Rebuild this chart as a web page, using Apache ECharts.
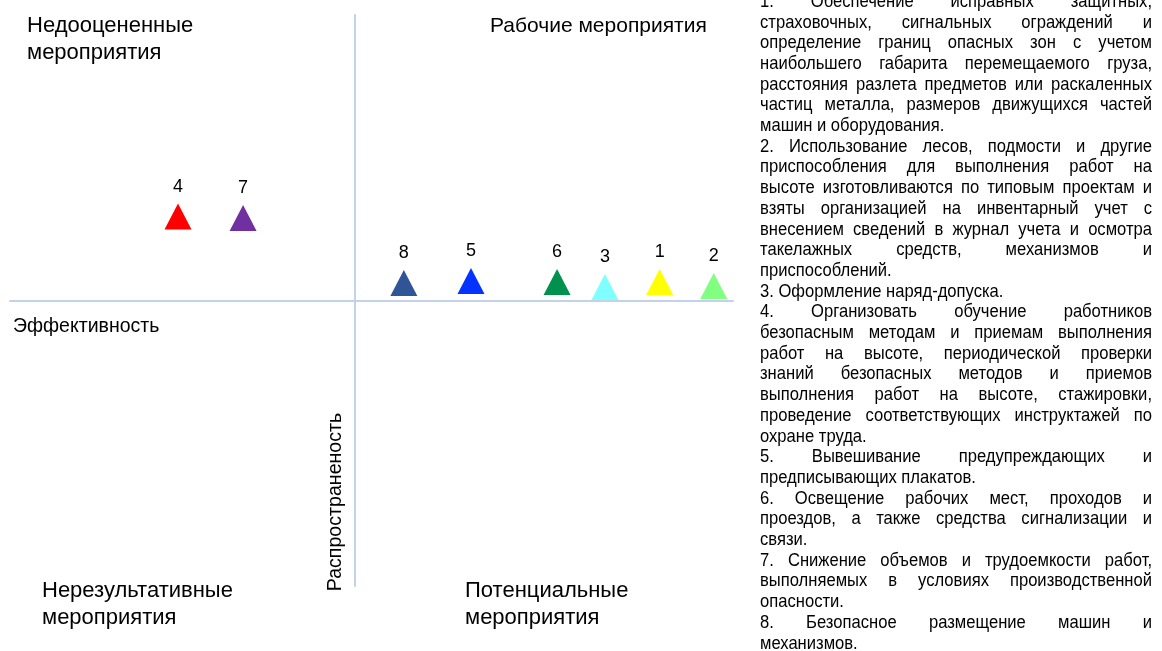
<!DOCTYPE html>
<html><head><meta charset="utf-8">
<script src="https://cdn.jsdelivr.net/npm/echarts@6/dist/echarts.min.js"></script>
<style>html,body{margin:0;padding:0;background:#fff}#main{width:1162px;height:651px}</style>
</head><body><div id="main"></div>
<script>
// ---- data ----
const measureIds = ['1', '2', '3', '4', '5', '6', '7', '8'];
const effectiveness = [8.87, 10.44, 7.28, -5.12, 3.39, 5.89, -3.23, 1.44];
const prevalence = [0.65, 0.51, 0.47, 2.94, 0.68, 0.65, 2.89, 0.61];
const colors = ['#FFFF00', '#80FF80', '#80FFFF', '#FF0000', '#0433FF', '#00914F', '#7030A0', '#2F5597'];
const quadrantLabels = [
  'Недооцененные\nмероприятия',
  'Рабочие мероприятия',
  'Нерезультативные\nмероприятия',
  'Потенциальные\nмероприятия'
];
const axisNames = ['Эффективность', 'Распространеность'];
const descriptionLines = [
  '1. Обеспечение исправных защитных,',
  'страховочных, сигнальных ограждений и',
  'определение границ опасных зон с учетом',
  'наибольшего габарита перемещаемого груза,',
  'расстояния разлета предметов или раскаленных',
  'частиц металла, размеров движущихся частей',
  'машин и оборудования.',
  '2. Использование лесов, подмости и другие',
  'приспособления для выполнения работ на',
  'высоте изготовливаются по типовым проектам и',
  'взяты организацией на инвентарный учет с',
  'внесением сведений в журнал учета и осмотра',
  'такелажных средств, механизмов и',
  'приспособлений.',
  '3. Оформление наряд-допуска.',
  '4. Организовать обучение работников',
  'безопасным методам и приемам выполнения',
  'работ на высоте, периодической проверки',
  'знаний безопасных методов и приемов',
  'выполнения работ на высоте, стажировки,',
  'проведение соответствующих инструктажей по',
  'охране труда.',
  '5. Вывешивание предупреждающих и',
  'предписывающих плакатов.',
  '6. Освещение рабочих мест, проходов и',
  'проездов, а также средства сигнализации и',
  'связи.',
  '7. Снижение объемов и трудоемкости работ,',
  'выполняемых в условиях производственной',
  'опасности.',
  '8. Безопасное размещение машин и',
  'механизмов.'
];

// ---- layout / style ----
const FONT = '"Liberation Sans", Arial, sans-serif';
const lineColor = '#C3D1EA';
const textBox = { left: 760, right: 1152, firstY: 1.8, step: 20.7, size: 16.6, scaleY: 1.1 };

const ctx = document.createElement('canvas').getContext('2d');
ctx.font = textBox.size + 'px ' + FONT;
const boxW = textBox.right - textBox.left;
const graphics = [];

function descText(str, x, y) {
  return { type: 'text', x: x, y: y, scaleY: textBox.scaleY, silent: true,
    style: { text: str, fontSize: textBox.size, fontFamily: FONT, fill: '#000', verticalAlign: 'middle', align: 'left' } };
}

descriptionLines.forEach(function (line, i) {
  const y = textBox.firstY + textBox.step * i;
  const next = descriptionLines[i + 1];
  const isLast = !next || /^\d+\./.test(next);
  const words = line.split(/\s+/);
  if (isLast || words.length < 2) {
    graphics.push(descText(line, textBox.left, y));
    return;
  }
  const widths = words.map(function (w) { return ctx.measureText(w).width; });
  const total = widths.reduce(function (a, b) { return a + b; }, 0);
  const gap = (boxW - total) / (words.length - 1);
  let x = textBox.left;
  words.forEach(function (w, k) {
    graphics.push(descText(w, x, y));
    x += widths[k] + gap;
  });
});

const qPos = [[27, 12.5], [490, 12.5], [42, 577.5], [465, 577.5]];
const qSize = [22, 21, 22, 22];
quadrantLabels.forEach(function (t, i) {
  graphics.push({ type: 'text', x: qPos[i][0], y: qPos[i][1], silent: true,
    style: { text: t, fontSize: qSize[i], lineHeight: 27, fontFamily: FONT, fill: '#000', verticalAlign: 'top', align: 'left' } });
});
graphics.push({ type: 'text', x: 13, y: 327, silent: true,
  style: { text: axisNames[0], fontSize: 19.5, fontFamily: FONT, fill: '#000', verticalAlign: 'middle', align: 'left' } });
graphics.push({ type: 'text', x: 336, y: 502, rotation: Math.PI / 2, silent: true,
  style: { text: axisNames[1], fontSize: 19.6, fontFamily: FONT, fill: '#000', verticalAlign: 'middle', align: 'center' } });

const chart = echarts.init(document.getElementById('main'), null, { renderer: 'canvas' });
chart.setOption({
  animation: false,
  backgroundColor: '#fff',
  grid: { left: 10, right: 429, top: 15, bottom: 65 },
  xAxis: {
    type: 'value', min: -10, max: 11,
    axisLine: { show: true, onZero: true, lineStyle: { color: lineColor, width: 2 } },
    axisTick: { show: false }, axisLabel: { show: false }, splitLine: { show: false }
  },
  yAxis: {
    type: 'value', min: -10, max: 10,
    axisLine: { show: true, onZero: true, lineStyle: { color: lineColor, width: 2 } },
    axisTick: { show: false }, axisLabel: { show: false }, splitLine: { show: false }
  },
  graphic: graphics,
  series: [{
    type: 'scatter',
    symbol: 'triangle',
    symbolSize: [27, 26],
    itemStyle: { opacity: 1 },
    data: measureIds.map(function (id, i) {
      return { name: id, value: [effectiveness[i], prevalence[i]], itemStyle: { color: colors[i], opacity: 1 } };
    }),
    label: {
      show: true, position: 'top', distance: 8,
      formatter: '{b}', fontSize: 18, fontFamily: FONT, color: '#000'
    }
  }]
});
</script></body></html>
